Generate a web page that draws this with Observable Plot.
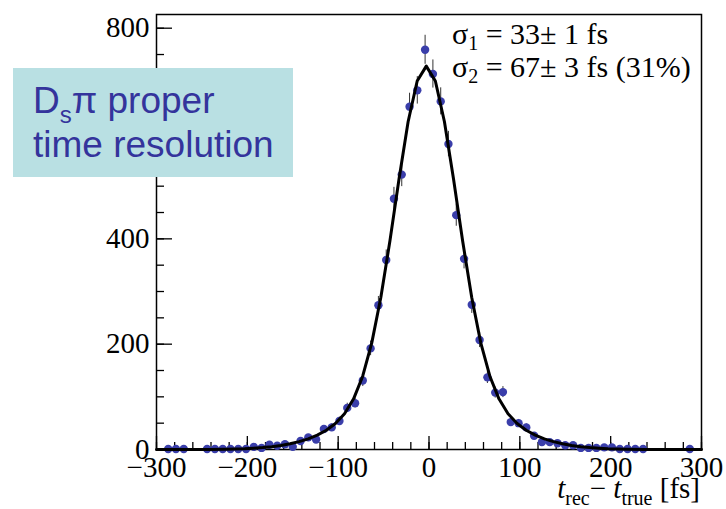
<!DOCTYPE html>
<html><head><meta charset="utf-8">
<script src="https://cdn.jsdelivr.net/npm/d3@7"></script>
<script src="https://cdn.jsdelivr.net/npm/@observablehq/plot@0.6"></script>
<style>
body{margin:0;background:#fff}
#chart{width:726px;height:509px;overflow:hidden}
</style>
</head><body><div id="chart"></div>
<script>
// Histogram bin centres (fs) and counts
const binX = [-287.1,-278.6,-270.0,-244.3,-235.7,-227.1,-218.6,-210.0,-201.4,-192.9,-184.3,-175.7,-167.1,-158.6,-150.0,-141.4,-132.9,-124.3,-115.7,-107.1,-98.6,-90.0,-81.4,-72.9,-64.3,-55.7,-47.1,-38.6,-30.0,-21.4,-12.9,-4.3,4.3,12.9,21.4,30.0,38.6,47.1,55.7,64.3,72.9,81.4,90.0,98.6,107.1,115.7,124.3,132.9,141.4,150.0,158.6,167.1,175.7,184.3,192.9,201.4,210.0,218.6,227.1,235.7,287.1];
const binCounts = [1,1,1,1,1,1,1,1,1,5,3,9,7,10,5,16,23,19,39,42,54,79,88,131,192,274,360,476,522,651,682,759,713,661,580,445,362,275,208,137,108,109,52,50,42,26,14,14,12,8,8,3,3,3,4,4,1,1,1,1,1];

// Fit curve
const fitX = [-300,-283,-263,-243,-223,-203,-193,-183,-173,-163,-153,-143,-133,-123,-113,-103,-93,-83,-73,-63,-53,-43,-33,-23,-13,-3,7,17,27,37,47,57,67,77,87,97,107,117,127,137,147,157,167,177,187,197,217,237,257,277,300];
const fitY = [0,0,0.07,0.22,0.6,1.5,2.4,3.6,5.3,7.6,10.8,14.9,20.3,27.3,36.5,49.3,68,96.2,139.2,202.5,289,396.3,513.6,622.3,699.7,728,699.7,622.3,513.6,396.3,289,202.5,139.2,96.2,68,49.3,36.5,27.3,20.3,14.9,10.8,7.6,5.3,3.6,2.4,1.5,0.6,0.22,0.07,0.02,0];

// Axis ticks (the 600 label is hidden behind the text box in the reference)
const xMajor = [-300,-200,-100,0,100,200,300];
const xMinor = d3.range(-300, 301, 20);
const yMajor = [0,200,400,600,800];
const yLabels = [0,200,400,800];
const yMinor = d3.range(0, 826, 50);

const points = binX.map((x, i) => ({x, v: binCounts[i]}));
const fit = fitX.map((x, i) => ({x, y: fitY[i]}));
const fmt = d => d < 0 ? "\u2212" + Math.abs(d) : String(d);
const serif = "'Liberation Serif','Times New Roman',serif";

const plot = Plot.plot({
  width: 726, height: 509,
  marginLeft: 156, marginRight: 25, marginTop: 14, marginBottom: 60,
  style: {fontFamily: serif, fontSize: "29px", color: "#000", background: "#fff", overflow: "visible"},
  x: {domain: [-300, 300]},
  y: {domain: [0, 826]},
  marks: [
    Plot.axisX({ticks: xMinor, tickSize: -7, text: null, label: null, strokeWidth: 1.3}),
    Plot.axisX({ticks: xMajor, tickSize: -13, text: null, label: null, strokeWidth: 1.3}),
    Plot.axisX({ticks: xMajor, tickSize: 0, tickPadding: 7, tickFormat: fmt, label: null, fontSize: 29}),
    Plot.axisY({ticks: yMinor, tickSize: -8, text: null, label: null, strokeWidth: 1.3}),
    Plot.axisY({ticks: yMajor, tickSize: -16, text: null, label: null, strokeWidth: 1.3}),
    Plot.axisY({ticks: yLabels, tickSize: 0, tickPadding: 7, tickFormat: fmt, label: null, fontSize: 29}),
    Plot.frame({stroke: "#000", strokeWidth: 1.5}),
    Plot.ruleX(points, {x: "x", y1: d => d.v - Math.sqrt(d.v), y2: d => d.v + Math.sqrt(d.v), stroke: "#333", strokeWidth: 1}),
    Plot.dot(points, {x: "x", y: "v", r: 4.2, fill: "#3a3eaa", stroke: "none"}),
    Plot.line(fit, {x: "x", y: "y", stroke: "#000", strokeWidth: 3})
  ]
});
document.getElementById("chart").appendChild(plot);

const svg = d3.select(plot);

// axis title
const t = svg.append("text").attr("x", 700).attr("y", 498)
  .style("text-anchor", "end").style("font-family", serif).style("font-size", "29px").style("fill", "#000");
t.append("tspan").style("font-style", "italic").text("t");
t.append("tspan").style("font-size", "20px").attr("dy", 7).text("rec");
t.append("tspan").attr("dy", -7).text("\u2212 ");
t.append("tspan").style("font-style", "italic").text("t");
t.append("tspan").style("font-size", "20px").attr("dy", 7).text("true");
t.append("tspan").attr("dy", -7).text(" [fs]");

// fit parameter text
const legend = [["1", " = 33\u00b1 1 fs", 44], ["2", " = 67\u00b1 3 fs (31%)", 77]];
legend.forEach(([sub, rest, y]) => {
  const e = svg.append("text").attr("x", 452).attr("y", y)
    .style("text-anchor", "start").style("font-family", serif).style("font-size", "30px").style("fill", "#000");
  e.append("tspan").text("\u03c3");
  e.append("tspan").style("font-size", "20px").attr("dy", 6).text(sub);
  e.append("tspan").attr("dy", -6).text(rest);
});

// annotation box
svg.append("rect").attr("x", 13).attr("y", 68).attr("width", 280).attr("height", 109).attr("fill", "#b9e0e3");
const sans = "'Liberation Sans',Arial,sans-serif";
const l1 = svg.append("text").attr("x", 33).attr("y", 113)
  .style("text-anchor", "start").style("font-family", sans).style("font-size", "37px").style("fill", "#34349c");
l1.append("tspan").text("D");
l1.append("tspan").style("font-size", "24px").attr("dy", 10).text("s");
l1.append("tspan").attr("dy", -10).text("\u03c0 proper");
svg.append("text").attr("x", 33).attr("y", 157)
  .style("text-anchor", "start").style("font-family", sans).style("font-size", "37px").style("fill", "#34349c")
  .text("time resolution");
</script>
</body></html>
